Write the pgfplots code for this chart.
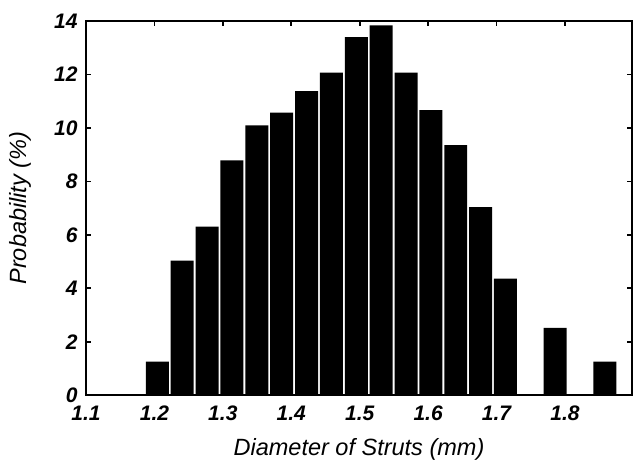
\documentclass[border=0pt]{standalone}
\usepackage{fontspec}
\setmainfont{Liberation Sans}
\usepackage{pgfplots}
\pgfplotsset{compat=1.18}
\begin{document}
\begin{tikzpicture}[x=1pt,y=1pt]
\begin{axis}[
  at={(0,0)}, anchor=south west,
  scale only axis, width=546pt, height=374.3pt,
  xmin=1.1, xmax=1.898, ymin=0, ymax=14,
  xtick={1.1,1.2,1.3,1.4,1.5,1.6,1.7,1.8},
  ytick={0,2,4,6,8,10,12,14},
  tick align=inside, tick pos=both, major tick length=5pt,
  axis line style={line width=2pt},
  tick style={line width=1.8pt, black},
  /pgf/number format/assume math mode=true,
  ticklabel style={font=\fontsize{21}{24}\selectfont\bfseries\itshape},
  xticklabel style={yshift=-7pt, /pgf/number format/fixed, /pgf/number format/precision=1, /pgf/number format/fixed zerofill},
  yticklabel style={xshift=-5pt},
  xlabel={Diameter of Struts (mm)},
  ylabel={Probability (\%)},
  label style={font=\fontsize{23.5}{26}\selectfont\itshape},
  xlabel style={at={(axis description cs:0.5,-0.1443)}, anchor=center},
  ylabel style={at={(axis description cs:-0.1209,0.5)}, anchor=center},
  clip=false,
]
\addplot[ybar, fill=black, draw=none, bar width=0.0336, bar shift=0pt] coordinates {
(1.2042,1.26) (1.2406,5.04) (1.2769,6.31) (1.3133,8.79) (1.3496,10.10)
(1.3860,10.57) (1.4223,11.38) (1.4587,12.07) (1.4950,13.40) (1.5314,13.84)
(1.5677,12.07) (1.6041,10.67) (1.6404,9.36) (1.6768,7.04) (1.7131,4.36)
(1.7495,0) (1.7858,2.52) (1.8222,0) (1.8585,1.26)
};
\end{axis}
\pgfresetboundingbox
\useasboundingbox (-86,-67) rectangle (550,395.3);
\end{tikzpicture}
\end{document}
